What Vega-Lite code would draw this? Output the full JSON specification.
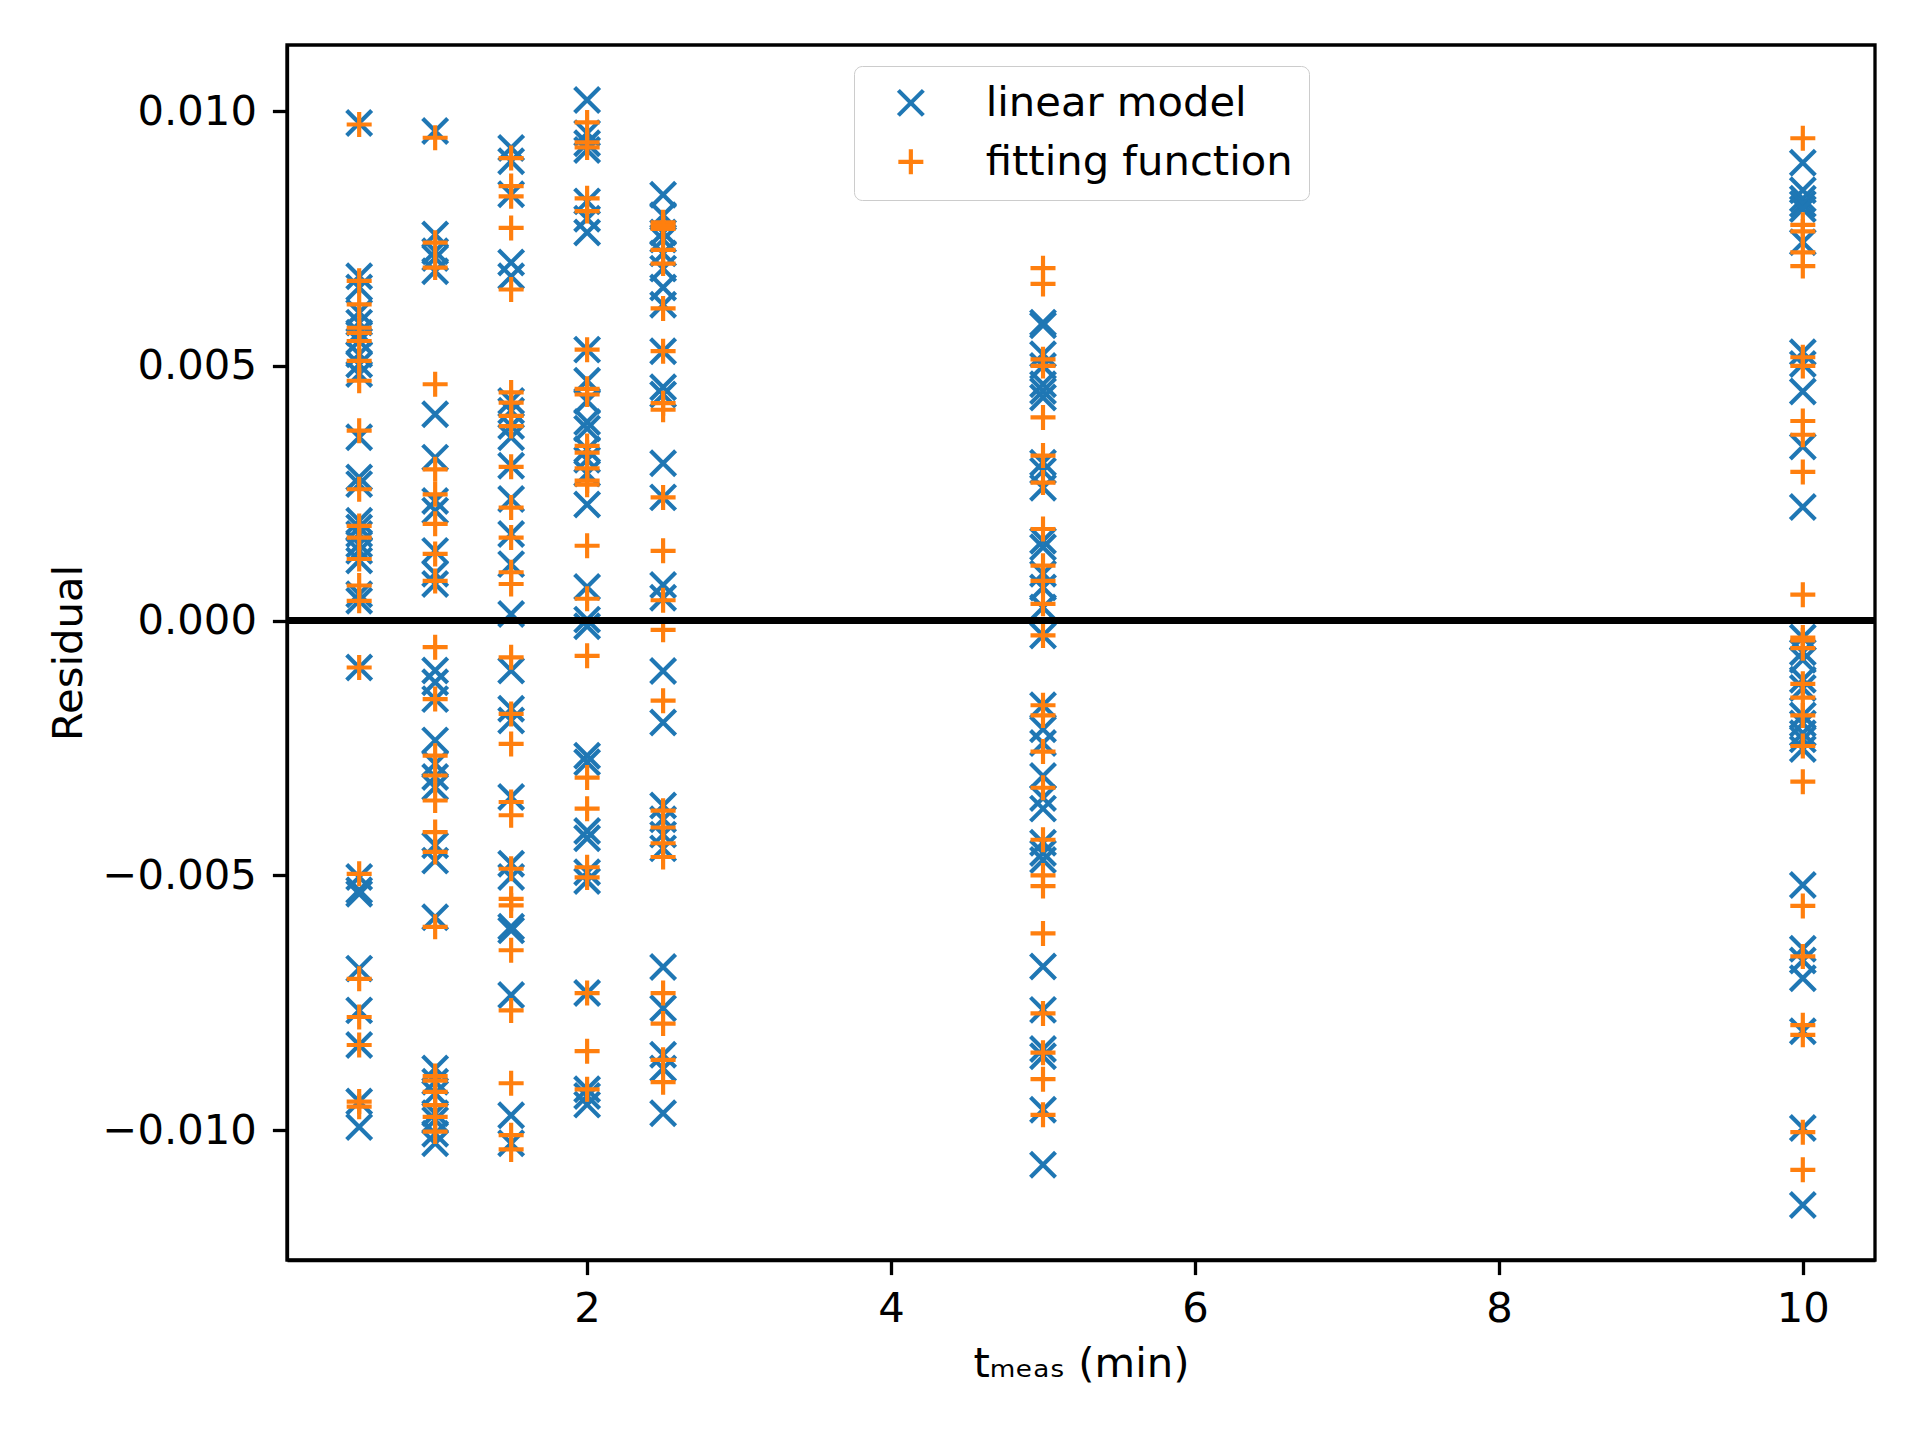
{
  "$schema": "https://vega.github.io/schema/vega-lite/v6.json",
  "autosize": "none",
  "padding": {"left": 287, "top": 45, "right": 45, "bottom": 180},
  "width": 1588,
  "height": 1215,
  "background": "white",
  "config": {
    "view": {"stroke": "black", "strokeWidth": 3.3},
    "font": "DejaVu Sans",
    "axis": {
      "grid": false, "domainColor": "black", "domainWidth": 3.3,
      "tickColor": "black", "tickWidth": 3.3, "tickSize": 14.6,
      "labelFont": "DejaVu Sans", "labelFontSize": 41.7, "labelColor": "black",
      "titleFont": "DejaVu Sans", "titleFontSize": 41.7, "titleFontWeight": "normal", "titleColor": "black"
    }
  },
  "data": {"values": [
    {"t":0.5,"model":"linear model","r":0.00977},{"t":0.5,"model":"linear model","r":0.00676},{"t":0.5,"model":"linear model","r":0.00654},{"t":0.5,"model":"linear model","r":0.00605},{"t":0.5,"model":"linear model","r":0.00585},{"t":0.5,"model":"linear model","r":0.00565},{"t":0.5,"model":"linear model","r":0.00549},{"t":0.5,"model":"linear model","r":0.00523},{"t":0.5,"model":"linear model","r":0.00503},{"t":0.5,"model":"linear model","r":0.00484},{"t":0.5,"model":"linear model","r":0.0036},{"t":0.5,"model":"linear model","r":0.00281},{"t":0.5,"model":"linear model","r":0.00268},{"t":0.5,"model":"linear model","r":0.00196},{"t":0.5,"model":"linear model","r":0.00183},{"t":0.5,"model":"linear model","r":0.0017},{"t":0.5,"model":"linear model","r":0.0015},{"t":0.5,"model":"linear model","r":0.00137},{"t":0.5,"model":"linear model","r":0.00118},{"t":0.5,"model":"linear model","r":0.00052},{"t":0.5,"model":"linear model","r":0.00039},{"t":0.5,"model":"linear model","r":-0.00092},{"t":0.5,"model":"linear model","r":-0.00503},{"t":0.5,"model":"linear model","r":-0.00529},{"t":0.5,"model":"linear model","r":-0.00536},{"t":0.5,"model":"linear model","r":-0.00683},{"t":0.5,"model":"linear model","r":-0.00765},{"t":0.5,"model":"linear model","r":-0.00833},{"t":0.5,"model":"linear model","r":-0.00944},{"t":0.5,"model":"linear model","r":-0.00994},
    {"t":1,"model":"linear model","r":0.00961},{"t":1,"model":"linear model","r":0.00758},{"t":1,"model":"linear model","r":0.00725},{"t":1,"model":"linear model","r":0.00712},{"t":1,"model":"linear model","r":0.00686},{"t":1,"model":"linear model","r":0.00405},{"t":1,"model":"linear model","r":0.0032},{"t":1,"model":"linear model","r":0.00235},{"t":1,"model":"linear model","r":0.00216},{"t":1,"model":"linear model","r":0.00137},{"t":1,"model":"linear model","r":0.00092},{"t":1,"model":"linear model","r":0.00072},{"t":1,"model":"linear model","r":-0.00098},{"t":1,"model":"linear model","r":-0.00121},{"t":1,"model":"linear model","r":-0.00154},{"t":1,"model":"linear model","r":-0.00235},{"t":1,"model":"linear model","r":-0.00281},{"t":1,"model":"linear model","r":-0.00307},{"t":1,"model":"linear model","r":-0.00327},{"t":1,"model":"linear model","r":-0.00441},{"t":1,"model":"linear model","r":-0.00471},{"t":1,"model":"linear model","r":-0.00582},{"t":1,"model":"linear model","r":-0.00879},{"t":1,"model":"linear model","r":-0.00905},{"t":1,"model":"linear model","r":-0.00928},{"t":1,"model":"linear model","r":-0.00967},{"t":1,"model":"linear model","r":-0.0098},{"t":1,"model":"linear model","r":-0.01007},{"t":1,"model":"linear model","r":-0.01026},
    {"t":1.5,"model":"linear model","r":0.00928},{"t":1.5,"model":"linear model","r":0.00902},{"t":1.5,"model":"linear model","r":0.00837},{"t":1.5,"model":"linear model","r":0.00703},{"t":1.5,"model":"linear model","r":0.00676},{"t":1.5,"model":"linear model","r":0.00431},{"t":1.5,"model":"linear model","r":0.00412},{"t":1.5,"model":"linear model","r":0.00382},{"t":1.5,"model":"linear model","r":0.0036},{"t":1.5,"model":"linear model","r":0.00304},{"t":1.5,"model":"linear model","r":0.00239},{"t":1.5,"model":"linear model","r":0.0017},{"t":1.5,"model":"linear model","r":0.00111},{"t":1.5,"model":"linear model","r":0.00013},{"t":1.5,"model":"linear model","r":-0.00098},{"t":1.5,"model":"linear model","r":-0.00173},{"t":1.5,"model":"linear model","r":-0.00196},{"t":1.5,"model":"linear model","r":-0.00346},{"t":1.5,"model":"linear model","r":-0.00477},{"t":1.5,"model":"linear model","r":-0.00503},{"t":1.5,"model":"linear model","r":-0.00601},{"t":1.5,"model":"linear model","r":-0.00608},{"t":1.5,"model":"linear model","r":-0.00735},{"t":1.5,"model":"linear model","r":-0.00971},{"t":1.5,"model":"linear model","r":-0.01026},
    {"t":2,"model":"linear model","r":0.01022},{"t":2,"model":"linear model","r":0.00957},{"t":2,"model":"linear model","r":0.00937},{"t":2,"model":"linear model","r":0.00924},{"t":2,"model":"linear model","r":0.00823},{"t":2,"model":"linear model","r":0.00789},{"t":2,"model":"linear model","r":0.00762},{"t":2,"model":"linear model","r":0.00532},{"t":2,"model":"linear model","r":0.00471},{"t":2,"model":"linear model","r":0.00431},{"t":2,"model":"linear model","r":0.0039},{"t":2,"model":"linear model","r":0.00377},{"t":2,"model":"linear model","r":0.00336},{"t":2,"model":"linear model","r":0.00316},{"t":2,"model":"linear model","r":0.00289},{"t":2,"model":"linear model","r":0.00228},{"t":2,"model":"linear model","r":0.00066},{"t":2,"model":"linear model","r":0.00002},{"t":2,"model":"linear model","r":-0.00011},{"t":2,"model":"linear model","r":-0.00265},{"t":2,"model":"linear model","r":-0.00278},{"t":2,"model":"linear model","r":-0.00413},{"t":2,"model":"linear model","r":-0.00427},{"t":2,"model":"linear model","r":-0.00494},{"t":2,"model":"linear model","r":-0.00511},{"t":2,"model":"linear model","r":-0.00731},{"t":2,"model":"linear model","r":-0.0092},{"t":2,"model":"linear model","r":-0.00933},{"t":2,"model":"linear model","r":-0.0095},
    {"t":2.5,"model":"linear model","r":0.00836},{"t":2.5,"model":"linear model","r":0.00796},{"t":2.5,"model":"linear model","r":0.00762},{"t":2.5,"model":"linear model","r":0.00748},{"t":2.5,"model":"linear model","r":0.00721},{"t":2.5,"model":"linear model","r":0.00691},{"t":2.5,"model":"linear model","r":0.00654},{"t":2.5,"model":"linear model","r":0.0062},{"t":2.5,"model":"linear model","r":0.00529},{"t":2.5,"model":"linear model","r":0.00458},{"t":2.5,"model":"linear model","r":0.00444},{"t":2.5,"model":"linear model","r":0.00309},{"t":2.5,"model":"linear model","r":0.00242},{"t":2.5,"model":"linear model","r":0.0007},{"t":2.5,"model":"linear model","r":0.00045},{"t":2.5,"model":"linear model","r":-0.00099},{"t":2.5,"model":"linear model","r":-0.002},{"t":2.5,"model":"linear model","r":-0.00363},{"t":2.5,"model":"linear model","r":-0.0039},{"t":2.5,"model":"linear model","r":-0.0042},{"t":2.5,"model":"linear model","r":-0.00447},{"t":2.5,"model":"linear model","r":-0.0068},{"t":2.5,"model":"linear model","r":-0.00761},{"t":2.5,"model":"linear model","r":-0.00852},{"t":2.5,"model":"linear model","r":-0.00879},{"t":2.5,"model":"linear model","r":-0.00967},
    {"t":5,"model":"linear model","r":0.00585},{"t":5,"model":"linear model","r":0.0058},{"t":5,"model":"linear model","r":0.00523},{"t":5,"model":"linear model","r":0.005},{"t":5,"model":"linear model","r":0.00464},{"t":5,"model":"linear model","r":0.00451},{"t":5,"model":"linear model","r":0.00438},{"t":5,"model":"linear model","r":0.0031},{"t":5,"model":"linear model","r":0.00294},{"t":5,"model":"linear model","r":0.00261},{"t":5,"model":"linear model","r":0.00157},{"t":5,"model":"linear model","r":0.00144},{"t":5,"model":"linear model","r":0.00092},{"t":5,"model":"linear model","r":0.00065},{"t":5,"model":"linear model","r":0.00026},{"t":5,"model":"linear model","r":-0.00029},{"t":5,"model":"linear model","r":-0.00166},{"t":5,"model":"linear model","r":-0.00213},{"t":5,"model":"linear model","r":-0.0024},{"t":5,"model":"linear model","r":-0.00305},{"t":5,"model":"linear model","r":-0.00348},{"t":5,"model":"linear model","r":-0.00369},{"t":5,"model":"linear model","r":-0.00436},{"t":5,"model":"linear model","r":-0.00456},{"t":5,"model":"linear model","r":-0.0047},{"t":5,"model":"linear model","r":-0.00679},{"t":5,"model":"linear model","r":-0.00764},{"t":5,"model":"linear model","r":-0.00841},{"t":5,"model":"linear model","r":-0.00855},{"t":5,"model":"linear model","r":-0.0096},{"t":5,"model":"linear model","r":-0.01068},
    {"t":10,"model":"linear model","r":0.00899},{"t":10,"model":"linear model","r":0.00845},{"t":10,"model":"linear model","r":0.00828},{"t":10,"model":"linear model","r":0.00818},{"t":10,"model":"linear model","r":0.00808},{"t":10,"model":"linear model","r":0.00743},{"t":10,"model":"linear model","r":0.00527},{"t":10,"model":"linear model","r":0.00504},{"t":10,"model":"linear model","r":0.0045},{"t":10,"model":"linear model","r":0.00342},{"t":10,"model":"linear model","r":0.00223},{"t":10,"model":"linear model","r":-0.00033},{"t":10,"model":"linear model","r":-0.00062},{"t":10,"model":"linear model","r":-0.00077},{"t":10,"model":"linear model","r":-0.00116},{"t":10,"model":"linear model","r":-0.00132},{"t":10,"model":"linear model","r":-0.00186},{"t":10,"model":"linear model","r":-0.00202},{"t":10,"model":"linear model","r":-0.00221},{"t":10,"model":"linear model","r":-0.00233},{"t":10,"model":"linear model","r":-0.00252},{"t":10,"model":"linear model","r":-0.00519},{"t":10,"model":"linear model","r":-0.00644},{"t":10,"model":"linear model","r":-0.00667},{"t":10,"model":"linear model","r":-0.00702},{"t":10,"model":"linear model","r":-0.00806},{"t":10,"model":"linear model","r":-0.00996},{"t":10,"model":"linear model","r":-0.01147},
    {"t":0.5,"model":"fitting function","r":0.00974},{"t":0.5,"model":"fitting function","r":0.00667},{"t":0.5,"model":"fitting function","r":0.00621},{"t":0.5,"model":"fitting function","r":0.00575},{"t":0.5,"model":"fitting function","r":0.00565},{"t":0.5,"model":"fitting function","r":0.00549},{"t":0.5,"model":"fitting function","r":0.0051},{"t":0.5,"model":"fitting function","r":0.00471},{"t":0.5,"model":"fitting function","r":0.00373},{"t":0.5,"model":"fitting function","r":0.00258},{"t":0.5,"model":"fitting function","r":0.00186},{"t":0.5,"model":"fitting function","r":0.00163},{"t":0.5,"model":"fitting function","r":0.00121},{"t":0.5,"model":"fitting function","r":0.00069},{"t":0.5,"model":"fitting function","r":0.00039},{"t":0.5,"model":"fitting function","r":-0.00092},{"t":0.5,"model":"fitting function","r":-0.00497},{"t":0.5,"model":"fitting function","r":-0.00703},{"t":0.5,"model":"fitting function","r":-0.00778},{"t":0.5,"model":"fitting function","r":-0.00833},{"t":0.5,"model":"fitting function","r":-0.00944},{"t":0.5,"model":"fitting function","r":-0.00954},
    {"t":1,"model":"fitting function","r":0.00948},{"t":1,"model":"fitting function","r":0.00742},{"t":1,"model":"fitting function","r":0.00693},{"t":1,"model":"fitting function","r":0.00464},{"t":1,"model":"fitting function","r":0.00297},{"t":1,"model":"fitting function","r":0.00248},{"t":1,"model":"fitting function","r":0.0019},{"t":1,"model":"fitting function","r":0.00131},{"t":1,"model":"fitting function","r":0.00078},{"t":1,"model":"fitting function","r":-0.00052},{"t":1,"model":"fitting function","r":-0.00154},{"t":1,"model":"fitting function","r":-0.00265},{"t":1,"model":"fitting function","r":-0.00304},{"t":1,"model":"fitting function","r":-0.00353},{"t":1,"model":"fitting function","r":-0.00415},{"t":1,"model":"fitting function","r":-0.00454},{"t":1,"model":"fitting function","r":-0.00601},{"t":1,"model":"fitting function","r":-0.00894},{"t":1,"model":"fitting function","r":-0.00903},{"t":1,"model":"fitting function","r":-0.00925},{"t":1,"model":"fitting function","r":-0.00951},{"t":1,"model":"fitting function","r":-0.00974},{"t":1,"model":"fitting function","r":-0.01003},
    {"t":1.5,"model":"fitting function","r":0.00908},{"t":1.5,"model":"fitting function","r":0.00853},{"t":1.5,"model":"fitting function","r":0.00833},{"t":1.5,"model":"fitting function","r":0.00771},{"t":1.5,"model":"fitting function","r":0.0065},{"t":1.5,"model":"fitting function","r":0.00448},{"t":1.5,"model":"fitting function","r":0.00428},{"t":1.5,"model":"fitting function","r":0.00402},{"t":1.5,"model":"fitting function","r":0.00382},{"t":1.5,"model":"fitting function","r":0.00302},{"t":1.5,"model":"fitting function","r":0.00222},{"t":1.5,"model":"fitting function","r":0.00163},{"t":1.5,"model":"fitting function","r":0.00095},{"t":1.5,"model":"fitting function","r":0.00072},{"t":1.5,"model":"fitting function","r":-0.00072},{"t":1.5,"model":"fitting function","r":-0.00183},{"t":1.5,"model":"fitting function","r":-0.00242},{"t":1.5,"model":"fitting function","r":-0.00356},{"t":1.5,"model":"fitting function","r":-0.00382},{"t":1.5,"model":"fitting function","r":-0.00487},{"t":1.5,"model":"fitting function","r":-0.00546},{"t":1.5,"model":"fitting function","r":-0.00559},{"t":1.5,"model":"fitting function","r":-0.00647},{"t":1.5,"model":"fitting function","r":-0.00765},{"t":1.5,"model":"fitting function","r":-0.00908},{"t":1.5,"model":"fitting function","r":-0.0101},{"t":1.5,"model":"fitting function","r":-0.01038},
    {"t":2,"model":"fitting function","r":0.00978},{"t":2,"model":"fitting function","r":0.00939},{"t":2,"model":"fitting function","r":0.00929},{"t":2,"model":"fitting function","r":0.00829},{"t":2,"model":"fitting function","r":0.00804},{"t":2,"model":"fitting function","r":0.00532},{"t":2,"model":"fitting function","r":0.00455},{"t":2,"model":"fitting function","r":0.00444},{"t":2,"model":"fitting function","r":0.00343},{"t":2,"model":"fitting function","r":0.0033},{"t":2,"model":"fitting function","r":0.00299},{"t":2,"model":"fitting function","r":0.00275},{"t":2,"model":"fitting function","r":0.00267},{"t":2,"model":"fitting function","r":0.00147},{"t":2,"model":"fitting function","r":0.00043},{"t":2,"model":"fitting function","r":-0.00069},{"t":2,"model":"fitting function","r":-0.00308},{"t":2,"model":"fitting function","r":-0.00369},{"t":2,"model":"fitting function","r":-0.00484},{"t":2,"model":"fitting function","r":-0.00504},{"t":2,"model":"fitting function","r":-0.00731},{"t":2,"model":"fitting function","r":-0.00845},{"t":2,"model":"fitting function","r":-0.0092},
    {"t":2.5,"model":"fitting function","r":0.00782},{"t":2.5,"model":"fitting function","r":0.00776},{"t":2.5,"model":"fitting function","r":0.00769},{"t":2.5,"model":"fitting function","r":0.00728},{"t":2.5,"model":"fitting function","r":0.00701},{"t":2.5,"model":"fitting function","r":0.00613},{"t":2.5,"model":"fitting function","r":0.00529},{"t":2.5,"model":"fitting function","r":0.00427},{"t":2.5,"model":"fitting function","r":0.00414},{"t":2.5,"model":"fitting function","r":0.00242},{"t":2.5,"model":"fitting function","r":0.00137},{"t":2.5,"model":"fitting function","r":0.0004},{"t":2.5,"model":"fitting function","r":-0.00018},{"t":2.5,"model":"fitting function","r":-0.00157},{"t":2.5,"model":"fitting function","r":-0.00373},{"t":2.5,"model":"fitting function","r":-0.00406},{"t":2.5,"model":"fitting function","r":-0.00437},{"t":2.5,"model":"fitting function","r":-0.00464},{"t":2.5,"model":"fitting function","r":-0.00731},{"t":2.5,"model":"fitting function","r":-0.00791},{"t":2.5,"model":"fitting function","r":-0.00862},{"t":2.5,"model":"fitting function","r":-0.00906},
    {"t":5,"model":"fitting function","r":0.00692},{"t":5,"model":"fitting function","r":0.00661},{"t":5,"model":"fitting function","r":0.00513},{"t":5,"model":"fitting function","r":0.005},{"t":5,"model":"fitting function","r":0.00399},{"t":5,"model":"fitting function","r":0.00324},{"t":5,"model":"fitting function","r":0.00271},{"t":5,"model":"fitting function","r":0.0018},{"t":5,"model":"fitting function","r":0.00108},{"t":5,"model":"fitting function","r":0.00078},{"t":5,"model":"fitting function","r":0.00033},{"t":5,"model":"fitting function","r":-0.00029},{"t":5,"model":"fitting function","r":-0.00166},{"t":5,"model":"fitting function","r":-0.00186},{"t":5,"model":"fitting function","r":-0.00257},{"t":5,"model":"fitting function","r":-0.00328},{"t":5,"model":"fitting function","r":-0.0043},{"t":5,"model":"fitting function","r":-0.005},{"t":5,"model":"fitting function","r":-0.00521},{"t":5,"model":"fitting function","r":-0.00614},{"t":5,"model":"fitting function","r":-0.00771},{"t":5,"model":"fitting function","r":-0.00848},{"t":5,"model":"fitting function","r":-0.009},{"t":5,"model":"fitting function","r":-0.0097},
    {"t":10,"model":"fitting function","r":0.00947},{"t":10,"model":"fitting function","r":0.00777},{"t":10,"model":"fitting function","r":0.00764},{"t":10,"model":"fitting function","r":0.00723},{"t":10,"model":"fitting function","r":0.00696},{"t":10,"model":"fitting function","r":0.00517},{"t":10,"model":"fitting function","r":0.005},{"t":10,"model":"fitting function","r":0.00392},{"t":10,"model":"fitting function","r":0.00365},{"t":10,"model":"fitting function","r":0.00292},{"t":10,"model":"fitting function","r":0.00051},{"t":10,"model":"fitting function","r":-0.00033},{"t":10,"model":"fitting function","r":-0.00039},{"t":10,"model":"fitting function","r":-0.00054},{"t":10,"model":"fitting function","r":-0.00124},{"t":10,"model":"fitting function","r":-0.00151},{"t":10,"model":"fitting function","r":-0.00186},{"t":10,"model":"fitting function","r":-0.00246},{"t":10,"model":"fitting function","r":-0.00316},{"t":10,"model":"fitting function","r":-0.0056},{"t":10,"model":"fitting function","r":-0.00659},{"t":10,"model":"fitting function","r":-0.00794},{"t":10,"model":"fitting function","r":-0.00813},{"t":10,"model":"fitting function","r":-0.01004},{"t":10,"model":"fitting function","r":-0.01078}
  ]},
  "layer": [
    {
      "mark": {"type": "point", "filled": false, "opacity": 1, "strokeWidth": 4.17, "size": 625},
      "encoding": {
        "x": {
          "field": "t", "type": "quantitative",
          "scale": {"domain": [0.025, 10.475], "nice": false, "zero": false},
          "axis": {"values": [2, 4, 6, 8, 10], "labelPadding": 14, "titlePadding": 13, "labelFlush": false},
          "title": "tₘₑₐₛ (min)"
        },
        "y": {
          "field": "r", "type": "quantitative",
          "scale": {"domain": [-0.01255, 0.0113], "nice": false, "zero": false},
          "axis": {"values": [-0.01, -0.005, 0, 0.005, 0.01], "format": ".3f", "labelPadding": 16, "titlePadding": 12, "labelFlush": false},
          "title": "Residual"
        },
        "color": {
          "field": "model", "type": "nominal",
          "scale": {"domain": ["linear model", "fitting function"], "range": ["#1f77b4", "#ff7f0e"]},
          "legend": {
            "title": null, "orient": "none", "legendX": 567, "legendY": 21,
            "fillColor": "rgba(255,255,255,0.8)", "strokeColor": "#cccccc", "cornerRadius": 8,
            "padding": 16, "rowPadding": 16, "labelFont": "DejaVu Sans", "labelFontSize": 41.7, "labelColor": "black", "labelLimit": 0,
            "symbolSize": 625, "symbolStrokeWidth": 4.17, "symbolOffset": 20, "labelOffset": 54,
            "encode": {"legend": {"update": {"strokeWidth": {"value": 3.3}}}}
          }
        },
        "shape": {
          "field": "model", "type": "nominal",
          "scale": {"domain": ["linear model", "fitting function"], "range": ["M-1,-1L1,1M-1,1L1,-1", "M-1,0L1,0M0,-1L0,1"]},
          "legend": null
        },
        "order": {"field": "model", "sort": "descending"}
      }
    },
    {
      "mark": {"type": "rule", "color": "black", "strokeWidth": 6},
      "encoding": {"y": {"datum": 0}}
    }
  ]
}
